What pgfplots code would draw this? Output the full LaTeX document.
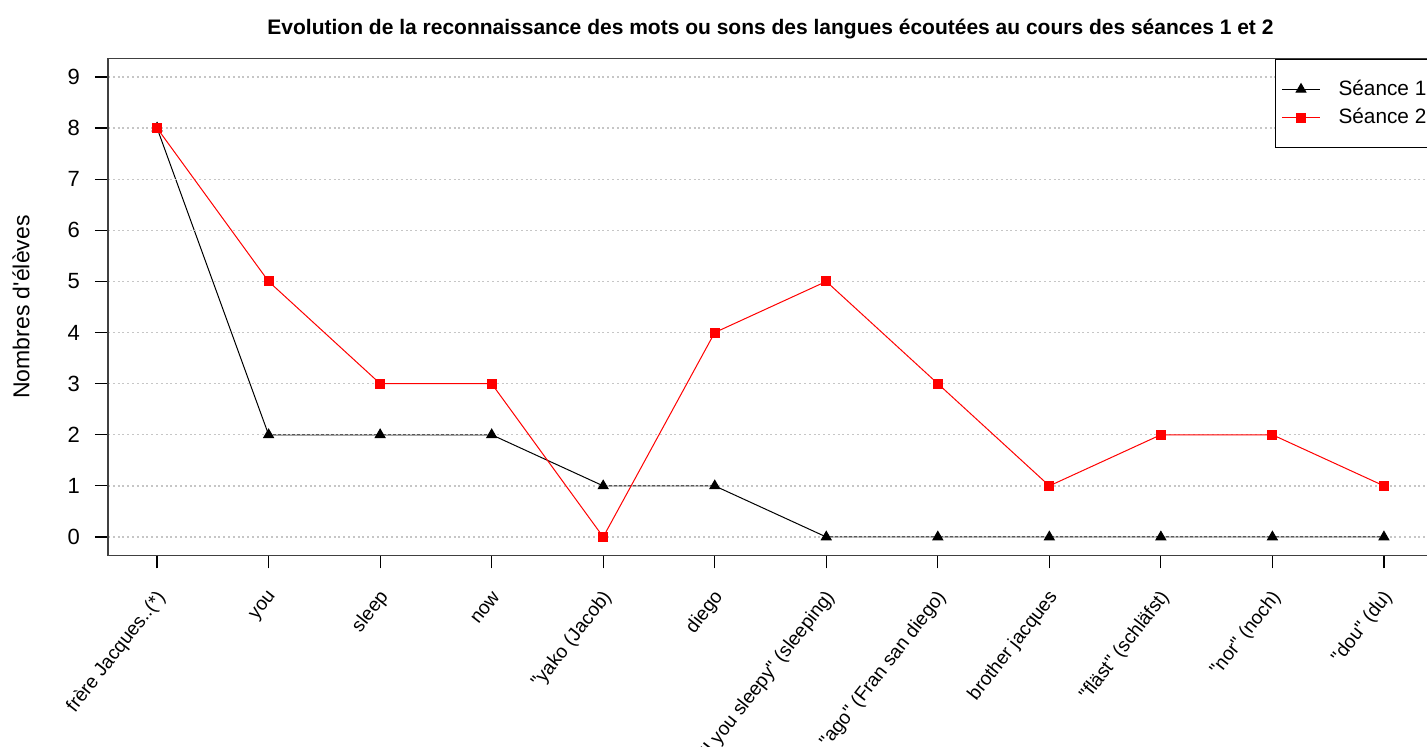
\documentclass[border=0pt]{standalone}
\usepackage{fontspec}
\setmainfont{Liberation Sans}[Ligatures=TeXOff]
\usepackage{pgfplots}
\pgfplotsset{compat=1.18}
\begin{document}
\begin{tikzpicture}
\begin{axis}[
  name=ax,
  set layers,
  at={(0,0)}, anchor=south west,
  scale only axis, width=662.5pt, height=248.4pt,
  xmin=0.56, xmax=12.44, ymin=-0.36, ymax=9.36,
  xtick={1,2,3,4,5,6,7,8,9,10,11,12},
  xticklabels={{frère Jacques..(*)},{you},{sleep},{now},{"yako (Jacob)},{diego},{"I you sleepy" (sleeping)},{"ago" (Fran san diego)},{brother jacques},{"fläst" (schläfst)},{"nor" (noch)},{"dou" (du)}},
  ytick={0,1,2,3,4,5,6,7,8,9},
  /pgf/number format/assume math mode=true,
  tick align=outside, major tick length=6.5pt,
  xtick pos=bottom, ytick pos=left,
  tick style={black, line width=0.6pt},
  axis line style={black!75, line width=0.7pt},
  ymajorgrids, major grid style={gray!45, dash pattern=on 1pt off 1.4pt, line width=0.65pt},
  yticklabel style={font=\fontsize{11}{12}\selectfont, xshift=-4pt},
  xticklabel style={font=\fontsize{9.6}{11}\selectfont, rotate=52, anchor=east, xshift=-5.1pt, yshift=-9.7pt},
  title={Evolution de la reconnaissance des mots ou sons des langues écoutées au cours des séances 1 et 2},
  title style={font=\bfseries\fontsize{10.5}{12}\selectfont, at={(0.5,1)}, anchor=center, yshift=9pt},
  ylabel={Nombres d'élèves},
  ylabel style={font=\fontsize{11.5}{13}\selectfont, at={(axis description cs:-0.0657,0.5)}, anchor=center},
  legend image code/.code={\draw[mark repeat=2,mark phase=2] plot coordinates {(0pt,0pt) (9.5pt,0pt) (19pt,0pt)};},
  legend style={at={(rel axis cs:1,1)}, anchor=north east, draw=black, line width=0.6pt,
    font=\fontsize{10.4}{12}\selectfont, inner xsep=3pt, inner ysep=9.5pt, row sep=3pt,
    nodes={inner xsep=0pt, inner ysep=1pt},
    /tikz/every odd column/.append style={column sep=9pt},
    cells={anchor=west}},
  legend cell align=left,
]
\addplot[black, line width=0.5pt, mark=triangle*, mark size=2.8pt, mark options={solid, fill=black}, on layer=axis background]
  coordinates {(1,8) (2,2) (3,2) (4,2) (5,1) (6,1) (7,0) (8,0) (9,0) (10,0) (11,0) (12,0)};
\addlegendentry{Séance 1}
\addplot[red, line width=0.5pt, mark=square*, mark size=2.25pt, mark options={solid, fill=red}]
  coordinates {(1,8) (2,5) (3,3) (4,3) (5,0) (6,4) (7,5) (8,3) (9,1) (10,2) (11,2) (12,1)};
\addlegendentry{Séance 2}
\end{axis}
\pgfresetboundingbox
\path[use as bounding box] (-54pt,-95.8pt) rectangle (659.5pt,277.7pt);
\end{tikzpicture}
\end{document}
